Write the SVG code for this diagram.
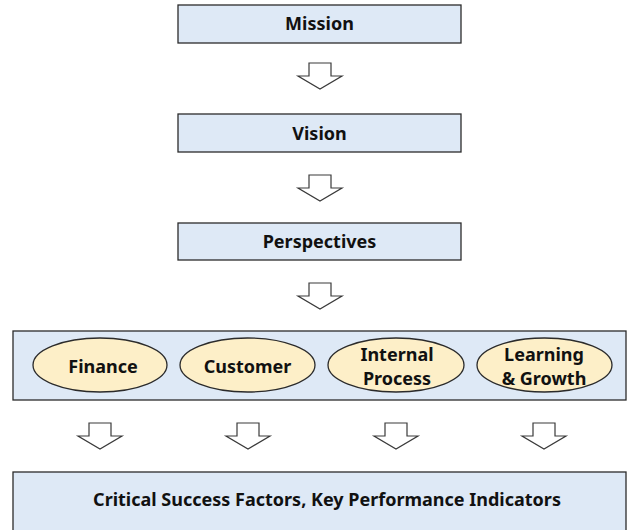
<svg xmlns="http://www.w3.org/2000/svg" width="628" height="530" viewBox="0 0 628 530">
  <defs>
    <style>
      .box { fill: #dee9f6; stroke: #2b2b2b; stroke-width: 1.3; }
      .oval { fill: #fdefc8; stroke: #2b2b2b; stroke-width: 1.3; }
      .arrow { fill: #ffffff; stroke: #3a3a3a; stroke-width: 1.2; stroke-linejoin: miter; }
      .lbl { font-family: "Noto Sans", "Open Sans", "DejaVu Sans", sans-serif; font-weight: bold; font-size: 18px; fill: #111111; text-anchor: middle; }
    </style>
    <!-- hollow block arrow pointing down, tip at (0,0) -->
    <path id="down" d="M -11 -26 H 11 V -13 H 22 L 0 0 L -22 -13 H -11 Z"/>
  </defs>
  <rect width="628" height="530" fill="#ffffff"/>

  <g id="mission">
    <rect class="box" x="178" y="5" width="283" height="38"/>
    <text class="lbl" x="319.5" y="30">Mission</text>
  </g>

  <g id="vision">
    <rect class="box" x="178" y="114" width="283" height="38"/>
    <text class="lbl" x="319.5" y="140">Vision</text>
  </g>

  <g id="perspectives">
    <rect class="box" x="178" y="223" width="283" height="37"/>
    <text class="lbl" x="319.5" y="248">Perspectives</text>
  </g>

  <g id="perspective-group">
    <rect class="box" x="13" y="331" width="613" height="69"/>
    <g id="finance">
      <ellipse class="oval" cx="100" cy="365" rx="67" ry="27"/>
      <text class="lbl" x="103" y="373">Finance</text>
    </g>
    <g id="customer">
      <ellipse class="oval" cx="247.5" cy="365" rx="67.5" ry="27"/>
      <text class="lbl" x="247.5" y="373">Customer</text>
    </g>
    <g id="internal-process">
      <ellipse class="oval" cx="396" cy="365" rx="68" ry="27"/>
      <text class="lbl" x="397" y="361">Internal</text>
      <text class="lbl" x="397" y="385">Process</text>
    </g>
    <g id="learning-growth">
      <ellipse class="oval" cx="544.5" cy="365" rx="67.5" ry="27"/>
      <text class="lbl" x="544" y="361">Learning</text>
      <text class="lbl" x="544" y="385">&amp; Growth</text>
    </g>
  </g>

  <g id="csf-kpi">
    <rect class="box" x="13" y="472" width="613" height="70"/>
    <text class="lbl" x="327" y="506">Critical Success Factors, Key Performance Indicators</text>
  </g>

  <g id="connectors">
    <use href="#down" class="arrow" x="320" y="89"/>
    <use href="#down" class="arrow" x="320" y="201"/>
    <use href="#down" class="arrow" x="320" y="309"/>
    <use href="#down" class="arrow" x="100" y="449"/>
    <use href="#down" class="arrow" x="248" y="449"/>
    <use href="#down" class="arrow" x="396" y="449"/>
    <use href="#down" class="arrow" x="544" y="449"/>
  </g>
</svg>
